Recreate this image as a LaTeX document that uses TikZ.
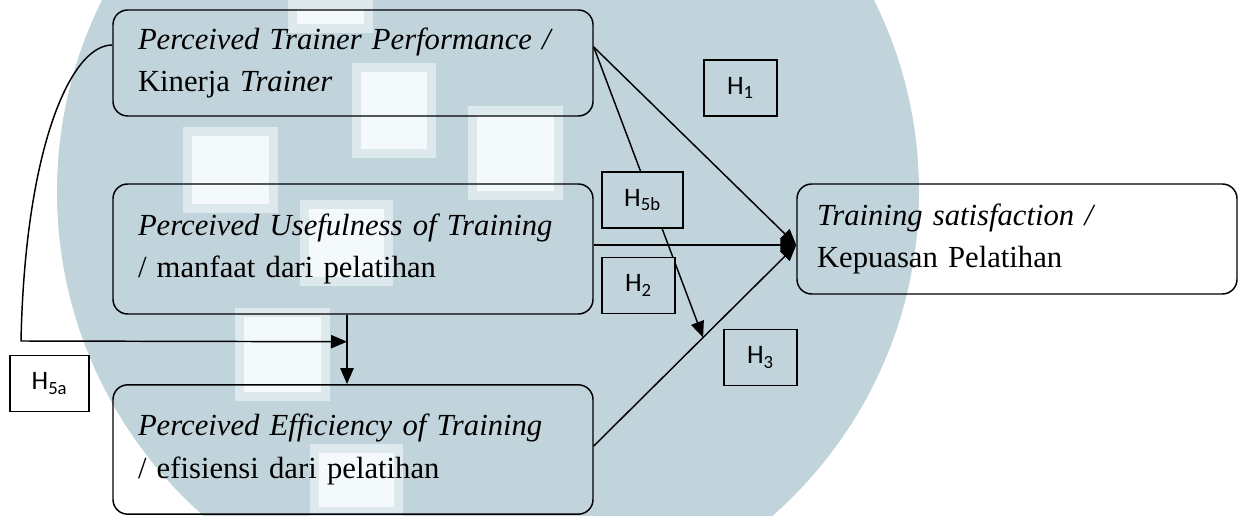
\documentclass[tikz,border=0pt]{standalone}
\usepackage{fontspec}
\setmainfont{Liberation Serif}
\newfontfamily\hfont{Carlito}
\usetikzlibrary{arrows.meta,positioning,calc}
\definecolor{wmblue}{RGB}{194,212,219}
\definecolor{wmmid}{RGB}{222,233,238}
\definecolor{wmlight}{RGB}{244,249,251}

\begin{document}
\begin{tikzpicture}[x=0.75pt,y=-0.75pt,
    construct/.style={draw, rounded corners=11pt, line width=1.1pt, align=left, text width=322.5pt, inner xsep=18.75pt, inner ysep=0pt, font=\fontsize{23}{32}\selectfont},
    hyp/.style={draw, fill=wmblue, line width=1.1pt, inner sep=0pt, minimum width=54.75pt, minimum height=42pt, font=\hfont\fontsize{20}{24}\selectfont},
    link/.style={line width=1.1pt, -{Triangle[length=12pt,width=10pt]}}]

    \useasboundingbox (0,0) rectangle (1243,516);

    % Watermark in the background
    \begin{scope}
    \clip (0,0) rectangle (1243,516);
    \fill[wmblue] (488,192) circle[radius=431];
    \foreach \xa/\ya/\xb/\yb in {288/0/373/33, 352/63/436/158, 468/106/563/200, 183/127/278/213, 300/200/393/286, 235/308/330/401, 310/444/403/516}
      {\fill[wmmid] (\xa,\ya) rectangle (\xb,\yb);
       \fill[wmlight] (\xa+9,\ya+9) rectangle (\xb-9,\yb-9);}
    \end{scope}

    % Constructs
    \node[construct, minimum height=79.5pt] (TP) at (353,63) {\mbox{\textit{Perceived Trainer Performance /}}\\Kinerja \textit{Trainer}};
    \node[construct, minimum height=97.5pt] (UT) at (353,249) {\mbox{\textit{Perceived Usefulness of Training}}\\/ manfaat dari pelatihan};
    \node[construct, minimum height=97pt] (ET) at (353,449.5) {\mbox{\textit{Perceived Efficiency of Training}}\\/ efisiensi dari pelatihan};
    \node[construct, minimum height=82.5pt, text width=300pt, inner xsep=15pt] (TS) at (1017,239) {\textit{Training satisfaction /}\\Kepuasan Pelatihan};

    % Connector ends
    \coordinate (tgt) at ([yshift=-4.5pt]TS.west);
    \coordinate (tpout) at ([yshift=12pt]TP.east);
    \coordinate (etout) at ([yshift=2.6pt]ET.east);
    \coordinate (hit) at ($(etout)!0.54!(tgt)$);
    \coordinate (tpleft) at ([yshift=13.5pt]TP.west);
    \coordinate (down) at ([xshift=-4.5pt]UT.south);
    \coordinate (join) at ([yshift=-20.25pt]down);
    \coordinate (corner) at (21,341);

    % Arcs
    \draw[link] (tpout) -- (tgt);
    \draw[link] (tpout) -- (hit);
    \draw[link] (UT.east |- tgt) -- (tgt);
    \draw[link] (etout) -- (tgt);
    \draw[link] (down) -- (ET.north -| down);
    \draw[link] (tpleft) .. controls (70,45) and (25,150) .. (corner) -- (join);

    % Hypothesis labels
    \node[hyp] (H1) at (740.5,88) {H\textsubscript{1}};
    \node[hyp, minimum width=60.75pt] (H5b) at (642.5,200) {H\textsubscript{5b}};
    \node[hyp] (H2) at (638.5,285.5) {H\textsubscript{2}};
    \node[hyp] (H3) at (760.5,357.5) {H\textsubscript{3}};
    \node[hyp, minimum width=59.25pt, fill=white] (H5a) at (49.5,383.5) {H\textsubscript{5a}};
\end{tikzpicture}
\end{document}
